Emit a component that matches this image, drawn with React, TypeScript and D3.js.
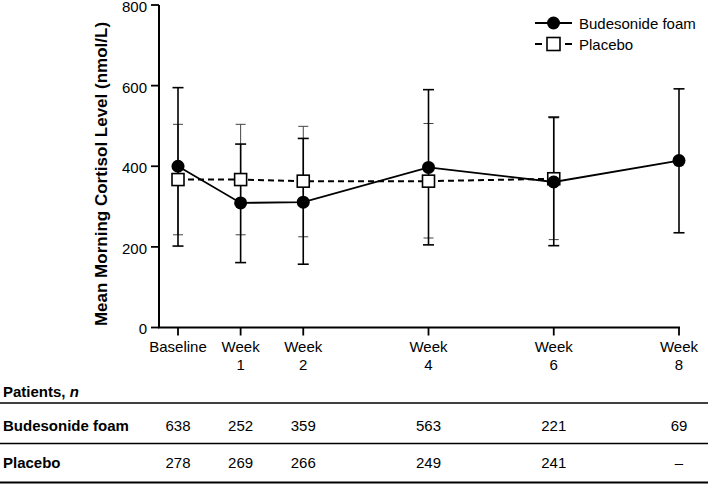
import React from "react";
import * as d3 from "d3";

const weeks = [0, 1, 2, 4, 6, 8];
const tickLines = [["Baseline"], ["Week", "1"], ["Week", "2"], ["Week", "4"], ["Week", "6"], ["Week", "8"]];
const yTicks = [0, 200, 400, 600, 800];

const budWeeks = [0, 1, 2, 4, 6, 8];
const budMean = [400, 309, 311, 397, 361, 414];
const budUpper = [595, 455, 469, 590, 522, 592];
const budLower = [202, 161, 157, 205, 203, 235];

const plaWeeks = [0, 1, 2, 4, 6];
const plaMean = [367, 367, 363, 363, 369];
const plaUpper = [504, 504, 499, 506, 520];
const plaLower = [230, 230, 225, 222, 218];

const budN = ["638", "252", "359", "563", "221", "69"];
const plaN = ["278", "269", "266", "249", "241", "–"];

const W = 708;
const H = 484;
const FONT = "'Liberation Sans', Arial, Helvetica, sans-serif";

export default function App() {
  const x = d3.scaleLinear().domain([0, 8]).range([178, 679]);
  const y = d3.scaleLinear().domain([0, 800]).range([327.5, 5]);
  const budPath = d3
    .line<number>()
    .x((d) => x(d))
    .y((_, i) => y(budMean[i]))(budWeeks) as string;
  const plaPath = d3
    .line<number>()
    .x((d) => x(d))
    .y((_, i) => y(plaMean[i]))(plaWeeks) as string;

  const axisX0 = 159;
  return (
    <svg
      width={W}
      height={H}
      style={{ position: "absolute", left: 0, top: 0, background: "#fff" }}
      fontFamily={FONT}
    >
      <rect width={W} height={H} fill="#fff" />
      {/* axes */}
      <line x1={axisX0} x2={axisX0} y1={y(800)} y2={y(0)} stroke="#000" strokeWidth={2} />
      <line x1={axisX0 - 1} x2={x(8) + 1} y1={y(0)} y2={y(0)} stroke="#000" strokeWidth={2} />
      {yTicks.map((t) => (
        <g key={t}>
          <line x1={axisX0 - 8} x2={axisX0} y1={y(t)} y2={y(t)} stroke="#000" strokeWidth={1.8} />
          <text x={axisX0 - 12} y={y(t)} dy="0.46em" textAnchor="end" fontSize={15} fill="#000">
            {t}
          </text>
        </g>
      ))}
      {weeks.map((w, i) => (
        <g key={w}>
          <line x1={x(w)} x2={x(w)} y1={y(0)} y2={y(0) + 8} stroke="#000" strokeWidth={1.8} />
          {tickLines[i].map((s, j) => (
            <text key={j} x={x(w)} y={352 + j * 18} textAnchor="middle" fontSize={15} fill="#000">
              {s}
            </text>
          ))}
        </g>
      ))}
      <text
        transform={`translate(107, 174) rotate(-90)`}
        textAnchor="middle"
        fontSize={17}
        fontWeight="bold"
        fill="#000"
      >
        Mean Morning Cortisol Level (nmol/L)
      </text>

      {/* placebo error bars */}
      {plaWeeks.map((w, i) => (
        <g key={"pe" + w} stroke="#444" strokeWidth={1}>
          <line x1={x(w)} x2={x(w)} y1={y(plaUpper[i])} y2={y(plaLower[i])} />
          <line x1={x(w) - 5} x2={x(w) + 5} y1={y(plaUpper[i])} y2={y(plaUpper[i])} />
          <line x1={x(w) - 5} x2={x(w) + 5} y1={y(plaLower[i])} y2={y(plaLower[i])} />
        </g>
      ))}
      {/* budesonide error bars */}
      {budWeeks.map((w, i) => (
        <g key={"be" + w} stroke="#000" strokeWidth={1.6}>
          <line x1={x(w)} x2={x(w)} y1={y(budUpper[i])} y2={y(budLower[i])} />
          <line x1={x(w) - 5.5} x2={x(w) + 5.5} y1={y(budUpper[i])} y2={y(budUpper[i])} />
          <line x1={x(w) - 5.5} x2={x(w) + 5.5} y1={y(budLower[i])} y2={y(budLower[i])} />
        </g>
      ))}
      {/* placebo line */}
      <path d={plaPath} fill="none" stroke="#000" strokeWidth={2} strokeDasharray="6,4" />
      {plaWeeks.map((w, i) => (
        <rect
          key={"ps" + w}
          x={x(w) - 6}
          y={y(plaMean[i]) - 6}
          width={12}
          height={12}
          fill="#fff"
          stroke="#000"
          strokeWidth={1.6}
        />
      ))}
      {/* budesonide line */}
      <path d={budPath} fill="none" stroke="#000" strokeWidth={1.8} />
      {budWeeks.map((w, i) => (
        <circle key={"bc" + w} cx={x(w)} cy={y(budMean[i])} r={6.5} fill="#000" />
      ))}

      {/* legend */}
      <line x1={535} x2={572} y1={23} y2={23} stroke="#000" strokeWidth={2} />
      <circle cx={553.5} cy={23} r={6.5} fill="#000" />
      <text x={579} y={28.5} fontSize={15} fill="#000">Budesonide foam</text>
      <line x1={535} x2={542} y1={44} y2={44} stroke="#000" strokeWidth={2} />
      <line x1={565} x2={572} y1={44} y2={44} stroke="#000" strokeWidth={2} />
      <rect x={547} y={37.5} width={13} height={13} fill="#fff" stroke="#000" strokeWidth={1.6} />
      <text x={579} y={49.5} fontSize={15} fill="#000">Placebo</text>

      {/* table */}
      <text x={3} y={397} fontSize={15} fontWeight="bold" fill="#000">
        Patients, <tspan fontStyle="italic">n</tspan>
      </text>
      <line x1={0} x2={W} y1={403} y2={403} stroke="#000" strokeWidth={1.5} />
      <text x={3} y={431} fontSize={15} fontWeight="bold" fill="#000">Budesonide foam</text>
      {weeks.map((w, i) => (
        <text key={"bn" + w} x={x(w)} y={431} textAnchor="middle" fontSize={15} fill="#000">
          {budN[i]}
        </text>
      ))}
      <line x1={0} x2={W} y1={443.5} y2={443.5} stroke="#000" strokeWidth={1.5} />
      <text x={3} y={468} fontSize={15} fontWeight="bold" fill="#000">Placebo</text>
      {weeks.map((w, i) => (
        <text key={"pn" + w} x={x(w)} y={468} textAnchor="middle" fontSize={15} fill="#000">
          {plaN[i]}
        </text>
      ))}
      <line x1={0} x2={W} y1={482.5} y2={482.5} stroke="#000" strokeWidth={2.2} />
    </svg>
  );
}
